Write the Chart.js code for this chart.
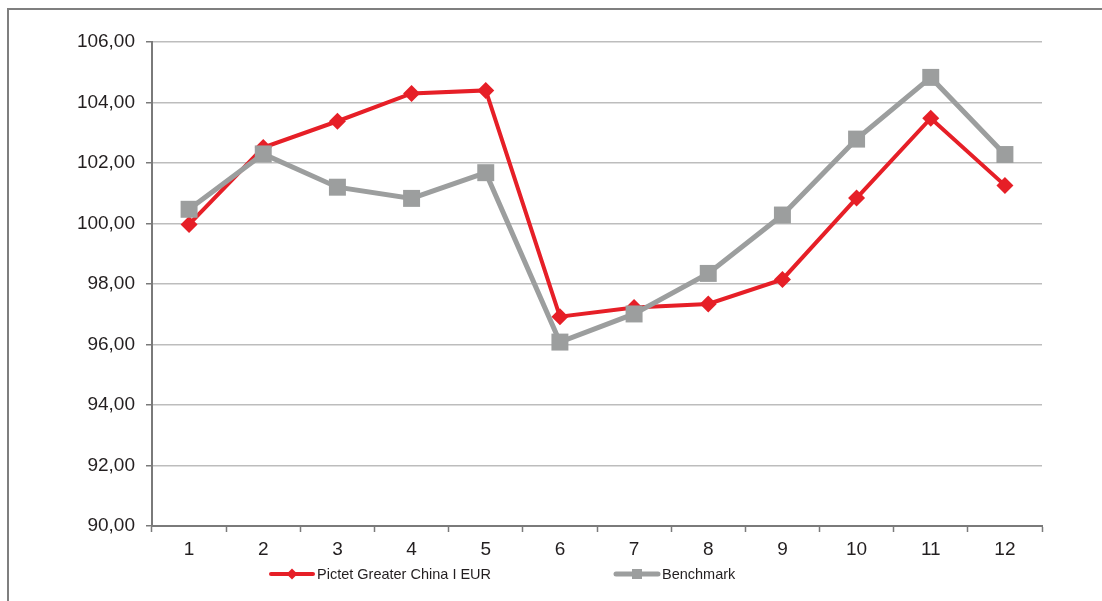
<!DOCTYPE html>
<html>
<head>
<meta charset="utf-8">
<script src="https://cdn.jsdelivr.net/npm/chart.js@4/dist/chart.umd.min.js"></script>
<style>
  html, body { margin: 0; padding: 0; background: #ffffff; }
  #wrap { position: relative; width: 1102px; height: 601px; overflow: hidden; }
  #frame { position: absolute; left: 7px; top: 8px; width: 1200px; height: 700px; border: 2px solid #7f7f7f; box-sizing: border-box; }
  canvas { position: absolute; left: 0; top: 0; }
</style>
</head>
<body>
<div id="wrap">
  <div id="frame"></div>
  <canvas id="c" width="1102" height="601"></canvas>
</div>
<script>
const categories = ['1', '2', '3', '4', '5', '6', '7', '8', '9', '10', '11', '12'];
const seriesNames = ['Pictet Greater China I EUR', 'Benchmark'];
const pictetValues = [99.97, 102.51, 103.38, 104.30, 104.40, 96.92, 97.22, 97.34, 98.15, 100.84, 103.48, 101.26];
const benchmarkValues = [100.47, 102.30, 101.20, 100.83, 101.68, 96.08, 97.01, 98.35, 100.28, 102.79, 104.83, 102.28];
const yTicks = [90, 92, 94, 96, 98, 100, 102, 104, 106];

const RED = '#e61f27';
const GREY = '#9c9e9e';
const AXIS = '#7a7a7a';
const TEXT = '#231f20';
const FONT = '"Liberation Sans", Arial, Helvetica, sans-serif';

const legendPlugin = {
  id: 'customLegend',
  afterDraw(chart) {
    const ctx = chart.ctx;
    const a = chart.chartArea;
    const y = a.bottom + 48;
    const items = [
      { name: seriesNames[0], color: RED, lw: 4, shape: 'diamond', x: a.left + 119 },
      { name: seriesNames[1], color: GREY, lw: 5, shape: 'square', x: a.left + 464 }
    ];
    ctx.save();
    items.forEach(it => {
      const len = 42;
      ctx.strokeStyle = it.color;
      ctx.lineWidth = it.lw;
      ctx.lineCap = 'round';
      ctx.beginPath();
      ctx.moveTo(it.x, y);
      ctx.lineTo(it.x + len, y);
      ctx.stroke();
      ctx.fillStyle = it.color;
      const cx = it.x + len / 2;
      if (it.shape === 'diamond') {
        ctx.beginPath();
        ctx.moveTo(cx, y - 5.5);
        ctx.lineTo(cx + 5.5, y);
        ctx.lineTo(cx, y + 5.5);
        ctx.lineTo(cx - 5.5, y);
        ctx.closePath();
        ctx.fill();
      } else {
        ctx.fillRect(cx - 5, y - 5, 10, 10);
      }
      ctx.fillStyle = TEXT;
      ctx.font = '14.5px ' + FONT;
      ctx.textAlign = 'left';
      ctx.textBaseline = 'middle';
      ctx.fillText(it.name, it.x + len + 4, y + 1);
    });
    ctx.restore();
  }
};

new Chart(document.getElementById('c'), {
  type: 'line',
  data: {
    labels: categories,
    datasets: [
      {
        label: seriesNames[0],
        data: pictetValues,
        borderColor: RED,
        backgroundColor: RED,
        borderWidth: 4,
        pointStyle: 'rectRot',
        pointRadius: 8.5,
        pointHoverRadius: 8.5,
        pointBorderWidth: 0,
        tension: 0,
        order: 1
      },
      {
        label: seriesNames[1],
        data: benchmarkValues,
        borderColor: GREY,
        backgroundColor: GREY,
        borderWidth: 5,
        pointStyle: 'rect',
        pointRadius: 12,
        pointHoverRadius: 12,
        pointBorderWidth: 0,
        tension: 0,
        order: 0
      }
    ]
  },
  options: {
    responsive: false,
    animation: false,
    events: [],
    layout: { padding: { left: 0, top: 42, right: 60, bottom: 40 } },
    plugins: {
      legend: { display: false },
      tooltip: { enabled: false },
      title: { display: false }
    },
    scales: {
      x: {
        offset: true,
        afterFit(scale) { scale.height = 35; },
        grid: {
          offset: true,
          drawOnChartArea: false,
          drawTicks: true,
          tickLength: 6,
          tickColor: AXIS,
          tickWidth: 1.5
        },
        border: { color: AXIS, width: 2 },
        ticks: {
          color: TEXT,
          font: { family: FONT, size: 19 },
          padding: 6,
          maxRotation: 0,
          autoSkip: false
        }
      },
      y: {
        min: 90,
        max: 106,
        afterFit(scale) { scale.width = 152; },
        afterBuildTicks(scale) { scale.ticks = yTicks.map(v => ({ value: v })); },
        grid: {
          color: '#bdbdbd',
          lineWidth: 1.5,
          drawTicks: true,
          tickLength: 6,
          tickColor: AXIS,
          tickWidth: 1.5
        },
        border: { color: AXIS, width: 2 },
        ticks: {
          color: TEXT,
          font: { family: FONT, size: 19 },
          padding: 11,
          callback: v => Number(v).toFixed(2).replace('.', ',')
        }
      }
    }
  },
  plugins: [legendPlugin]
});
</script>
</body>
</html>
